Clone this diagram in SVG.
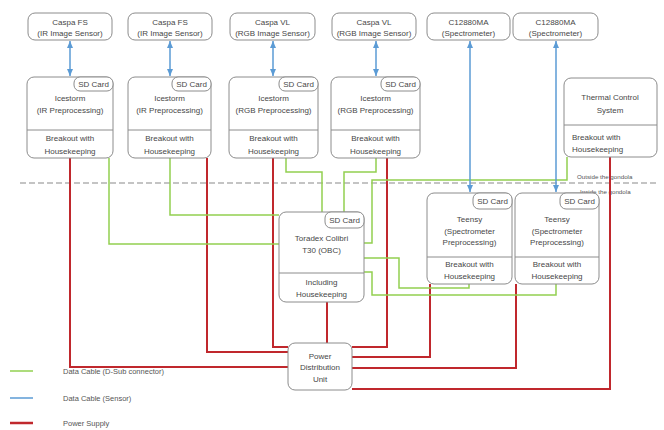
<svg xmlns="http://www.w3.org/2000/svg" width="664" height="430" viewBox="0 0 664 430">
  <style>
    .box { fill: #ffffff; stroke: #8c8c8c; stroke-width: 1; }
    .div { stroke: #8c8c8c; stroke-width: 1; fill: none; }
    .t { font-family: "Liberation Sans", Arial, sans-serif; font-size: 8px; fill: #474747; text-anchor: middle; }
    .tl { font-family: "Liberation Sans", Arial, sans-serif; font-size: 8px; fill: #474747; }
    .small { font-family: "Liberation Sans", Arial, sans-serif; font-size: 6.2px; fill: #555555; }
    .leg { font-family: "Liberation Sans", Arial, sans-serif; font-size: 7.5px; fill: #555555; }
    .pwr { stroke: #c0282d; stroke-width: 2; fill: none; }
    .data { stroke: #92d050; stroke-width: 1.5; fill: none; }
    .sens { stroke: #5b9bd5; stroke-width: 1.5; fill: none; marker-start: url(#arr); marker-end: url(#arr); }
  </style>
  <defs>
    <marker id="arr" markerUnits="userSpaceOnUse" markerWidth="7" markerHeight="6" refX="7" refY="3" orient="auto-start-reverse">
      <path d="M0,0 L7,3 L0,6 z" fill="#5b9bd5"/>
    </marker>
  </defs>

  <rect width="664" height="430" fill="#ffffff"/>

  <!-- gondola boundary -->
  <g id="boundary">
    <line x1="20" y1="183" x2="656" y2="183" stroke="#8a8a8a" stroke-width="1.2" stroke-dasharray="6 3"/>
    <text class="small" x="577" y="179">Outside the gondola</text>
    <text class="small" x="580" y="194">Inside the gondola</text>
  </g>

  <g id="connectors">
    <!-- power supply -->
    <path class="pwr" d="M70,158 V367 H288"/>
    <path class="pwr" d="M207,158 V352 H288"/>
    <path class="pwr" d="M273,158 V347 H288"/>
    <path class="pwr" d="M387,158 V347 H352"/>
    <path class="pwr" d="M327,302 V343"/>
    <path class="pwr" d="M430,284 V357 H352"/>
    <path class="pwr" d="M516,284 V368 H352"/>
    <path class="pwr" d="M610,157 V389 H352"/>
    <!-- data cables (D-Sub) -->
    <path class="data" d="M109,158 V244 H279"/>
    <path class="data" d="M170,158 V215 H279"/>
    <path class="data" d="M286,158 V172 H322 V212"/>
    <path class="data" d="M376,158 V172 H344 V212"/>
    <path class="data" d="M567,157 V180 H372 V243 H364"/>
    <path class="data" d="M364,258 H399 V288 H469 V284"/>
    <path class="data" d="M364,272 H372 V295 H556 V284"/>
    <!-- sensor data cables -->
    <line class="sens" x1="70" y1="41" x2="70" y2="76"/>
    <line class="sens" x1="170" y1="41" x2="170" y2="76"/>
    <line class="sens" x1="273" y1="41" x2="273" y2="76"/>
    <line class="sens" x1="376" y1="41" x2="376" y2="76"/>
    <line class="sens" x1="470" y1="41" x2="470" y2="192"/>
    <line class="sens" x1="556" y1="41" x2="556" y2="192"/>
  </g>

  <!-- sensors -->
  <g id="caspa-fs-1">
    <rect class="box" x="28" y="13" width="84" height="27" rx="7"/>
    <text class="t" x="70" y="25">Caspa FS</text>
    <text class="t" x="70" y="36">(IR Image Sensor)</text>
  </g>
  <g id="caspa-fs-2">
    <rect class="box" x="128" y="13" width="84" height="27" rx="7"/>
    <text class="t" x="170" y="25">Caspa FS</text>
    <text class="t" x="170" y="36">(IR Image Sensor)</text>
  </g>
  <g id="caspa-vl-1">
    <rect class="box" x="230" y="13" width="85" height="27" rx="7"/>
    <text class="t" x="272.5" y="25">Caspa VL</text>
    <text class="t" x="272.5" y="36">(RGB Image Sensor)</text>
  </g>
  <g id="caspa-vl-2">
    <rect class="box" x="332" y="13" width="84" height="27" rx="7"/>
    <text class="t" x="374" y="25">Caspa VL</text>
    <text class="t" x="374" y="36">(RGB Image Sensor)</text>
  </g>
  <g id="spectrometer-1">
    <rect class="box" x="427" y="13" width="83" height="27" rx="7"/>
    <text class="t" x="468.5" y="25">C12880MA</text>
    <text class="t" x="468.5" y="36">(Spectrometer)</text>
  </g>
  <g id="spectrometer-2">
    <rect class="box" x="513" y="13" width="85" height="27" rx="7"/>
    <text class="t" x="555.5" y="25">C12880MA</text>
    <text class="t" x="555.5" y="36">(Spectrometer)</text>
  </g>

  <!-- preprocessing boards -->
  <g id="icestorm-ir-1">
    <rect class="box" x="27" y="77" width="86" height="81" rx="7"/>
    <line class="div" x1="27" y1="130" x2="113" y2="130"/>
    <rect class="box" x="74" y="77" width="39" height="14" rx="6"/>
    <text class="t" x="93.5" y="87">SD Card</text>
    <text class="t" x="70" y="101">Icestorm</text>
    <text class="t" x="70" y="113">(IR Preprocessing)</text>
    <text class="t" x="70" y="141">Breakout with</text>
    <text class="t" x="70" y="154">Housekeeping</text>
  </g>
  <g id="icestorm-ir-2">
    <rect class="box" x="128" y="77" width="83" height="81" rx="7"/>
    <line class="div" x1="128" y1="130" x2="211" y2="130"/>
    <rect class="box" x="172" y="77" width="39" height="14" rx="6"/>
    <text class="t" x="191.5" y="87">SD Card</text>
    <text class="t" x="169.5" y="101">Icestorm</text>
    <text class="t" x="169.5" y="113">(IR Preprocessing)</text>
    <text class="t" x="169.5" y="141">Breakout with</text>
    <text class="t" x="169.5" y="154">Housekeeping</text>
  </g>
  <g id="icestorm-rgb-1">
    <rect class="box" x="229" y="77" width="89" height="81" rx="7"/>
    <line class="div" x1="229" y1="130" x2="318" y2="130"/>
    <rect class="box" x="279" y="77" width="39" height="14" rx="6"/>
    <text class="t" x="298.5" y="87">SD Card</text>
    <text class="t" x="273.5" y="101">Icestorm</text>
    <text class="t" x="273.5" y="113">(RGB Preprocessing)</text>
    <text class="t" x="273.5" y="141">Breakout with</text>
    <text class="t" x="273.5" y="154">Housekeeping</text>
  </g>
  <g id="icestorm-rgb-2">
    <rect class="box" x="331" y="77" width="89" height="81" rx="7"/>
    <line class="div" x1="331" y1="130" x2="420" y2="130"/>
    <rect class="box" x="381" y="77" width="39" height="14" rx="6"/>
    <text class="t" x="400.5" y="87">SD Card</text>
    <text class="t" x="375.5" y="101">Icestorm</text>
    <text class="t" x="375.5" y="113">(RGB Preprocessing)</text>
    <text class="t" x="375.5" y="141">Breakout with</text>
    <text class="t" x="375.5" y="154">Housekeeping</text>
  </g>
  <g id="thermal-control">
    <rect class="box" x="564" y="78" width="93" height="79" rx="7"/>
    <line class="div" x1="564" y1="125" x2="657" y2="125"/>
    <text class="t" x="610" y="100">Thermal Control</text>
    <text class="t" x="610" y="113">System</text>
    <text class="tl" x="572" y="140">Breakout with</text>
    <text class="tl" x="572" y="152">Housekeeping</text>
  </g>

  <!-- on-board computer -->
  <g id="toradex-obc">
    <rect class="box" x="279" y="212" width="85" height="90" rx="7"/>
    <line class="div" x1="279" y1="273" x2="364" y2="273"/>
    <rect class="box" x="325" y="212" width="39" height="16" rx="6"/>
    <text class="t" x="344.5" y="223">SD Card</text>
    <text class="t" x="321.5" y="241">Toradex Colibri</text>
    <text class="t" x="321.5" y="253">T30 (OBC)</text>
    <text class="t" x="321.5" y="285">Including</text>
    <text class="t" x="321.5" y="297">Housekeeping</text>
  </g>

  <!-- spectrometer boards -->
  <g id="teensy-1">
    <rect class="box" x="427" y="193" width="85" height="91" rx="7"/>
    <line class="div" x1="427" y1="257" x2="512" y2="257"/>
    <rect class="box" x="473" y="193" width="39" height="16" rx="6"/>
    <text class="t" x="492.5" y="204">SD Card</text>
    <text class="t" x="469.5" y="222">Teensy</text>
    <text class="t" x="469.5" y="234">(Spectrometer</text>
    <text class="t" x="469.5" y="245">Preprocessing)</text>
    <text class="t" x="469.5" y="267">Breakout with</text>
    <text class="t" x="469.5" y="279">Housekeeping</text>
  </g>
  <g id="teensy-2">
    <rect class="box" x="515" y="193" width="84" height="91" rx="7"/>
    <line class="div" x1="515" y1="257" x2="599" y2="257"/>
    <rect class="box" x="560" y="193" width="39" height="16" rx="6"/>
    <text class="t" x="579.5" y="204">SD Card</text>
    <text class="t" x="557" y="222">Teensy</text>
    <text class="t" x="557" y="234">(Spectrometer</text>
    <text class="t" x="557" y="245">Preprocessing)</text>
    <text class="t" x="557" y="267">Breakout with</text>
    <text class="t" x="557" y="279">Housekeeping</text>
  </g>

  <!-- power distribution -->
  <g id="pdu">
    <rect class="box" x="288" y="343" width="64" height="47" rx="7"/>
    <text class="t" x="320" y="359">Power</text>
    <text class="t" x="320" y="370">Distribution</text>
    <text class="t" x="320" y="382">Unit</text>
  </g>

  <!-- legend -->
  <g id="legend">
    <line x1="10" y1="371" x2="33" y2="371" stroke="#92d050" stroke-width="1.5"/>
    <text class="leg" x="63" y="374">Data Cable (D-Sub connector)</text>
    <line x1="10" y1="398" x2="33" y2="398" stroke="#5b9bd5" stroke-width="1.5"/>
    <text class="leg" x="63" y="401">Data Cable (Sensor)</text>
    <line x1="10" y1="423" x2="33" y2="423" stroke="#c0282d" stroke-width="2.5"/>
    <text class="leg" x="63" y="426">Power Supply</text>
  </g>
</svg>
